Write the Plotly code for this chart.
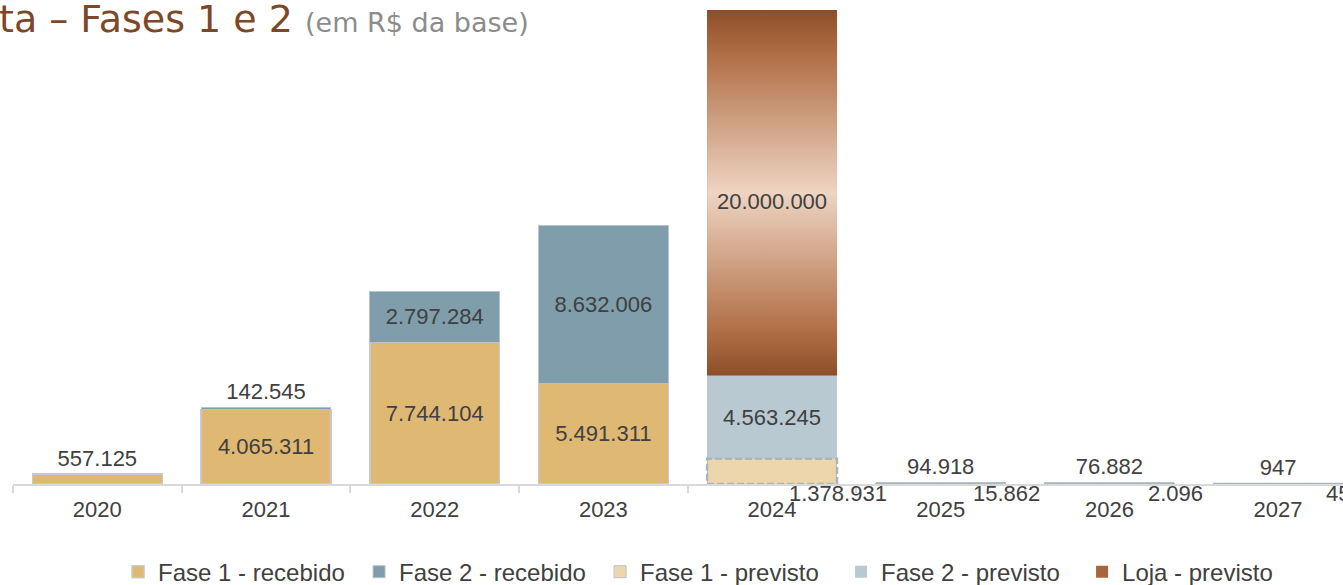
import plotly.graph_objects as go

# ---------------- data ----------------
years = ["2020", "2021", "2022", "2023", "2024", "2025", "2026", "2027"]
fase1_recebido = [557125, 4065311, 7744104, 5491311, None, None, None, None]
fase2_recebido = [None, 142545, 2797284, 8632006, None, None, None, None]
fase1_previsto = [None, None, None, None, 1378931, 15862, 2096, 452]
fase2_previsto = [None, None, None, None, 4563245, 94918, 76882, 947]
loja_previsto = [None, None, None, None, 20000000, None, None, None]

# ---------------- style ----------------
BARGAP = 0.23
W = 1 - BARGAP
LABEL_FONT = dict(family="Liberation Sans, Arial, sans-serif", size=22, color="#404040")
C_F1R = "#DFB874"
C_F2R = "#7F9DAB"
C_F1P = "#EDD6AC"
C_F2P = "#B9C9D2"
C_LOJA = "#A8643A"


def fmt(v):
    return f"{v:,.0f}".replace(",", ".")


def nz(v):
    return 0 if v is None else v


x = list(range(len(years)))


def txt(vals):
    return [fmt(v) if v else "" for v in vals]


def pos(vals, outside_limit):
    return ["outside" if (v is not None and v < outside_limit) else "inside" for v in vals]


fig = go.Figure()

fig.add_trace(go.Bar(
    x=x, y=fase1_recebido, name="Fase 1 - recebido",
    marker=dict(color=C_F1R, line=dict(color="#C9C9C9", width=1.5)),
    text=txt(fase1_recebido), textposition=pos(fase1_recebido, 1_000_000),
    insidetextanchor="middle", textangle=0, constraintext="none",
    textfont=LABEL_FONT, cliponaxis=False, hoverinfo="name+y",
))
fig.add_trace(go.Bar(
    x=x, y=fase2_recebido, name="Fase 2 - recebido",
    marker=dict(color=C_F2R, line=dict(color="#B9C4CA", width=1)),
    text=txt(fase2_recebido), textposition=pos(fase2_recebido, 1_000_000),
    insidetextanchor="middle", textangle=0, constraintext="none",
    textfont=LABEL_FONT, cliponaxis=False, hoverinfo="name+y",
))
fig.add_trace(go.Bar(
    x=x, y=fase1_previsto, name="Fase 1 - previsto",
    marker=dict(color=C_F1P, line=dict(color="#B7C2C9", width=1)),
    hoverinfo="name+y",
))
fig.add_trace(go.Bar(
    x=x, y=fase2_previsto, name="Fase 2 - previsto",
    marker=dict(color=C_F2P, line=dict(width=0)),
    text=txt(fase2_previsto), textposition=pos(fase2_previsto, 1_000_000),
    insidetextanchor="middle", textangle=0, constraintext="none",
    textfont=LABEL_FONT, cliponaxis=False, hoverinfo="name+y",
))
fig.add_trace(go.Bar(
    x=x, y=loja_previsto, name="Loja - previsto",
    marker=dict(color=C_LOJA, line=dict(width=0)),
    hoverinfo="name+y",
))

# dashed outline for "Fase 1 - previsto" segments (computed from the data)
ox, oy = [], []
for i, v in enumerate(fase1_previsto):
    if v is None:
        continue
    b = nz(fase1_recebido[i]) + nz(fase2_recebido[i])
    ox += [i - W / 2, i + W / 2, i + W / 2, i - W / 2, i - W / 2, None]
    oy += [b, b, b + v, b + v, b, None]
fig.add_trace(go.Scatter(
    x=ox, y=oy, mode="lines", showlegend=False, hoverinfo="skip",
    line=dict(color="#A9B6BF", width=2.5, dash="7px,3px"), cliponaxis=False,
))

# gradient fill for the "Loja - previsto" segment (computed from the data)
for i, v in enumerate(loja_previsto):
    if v is None:
        continue
    b = nz(fase1_recebido[i]) + nz(fase2_recebido[i]) + nz(fase1_previsto[i]) + nz(fase2_previsto[i])
    fig.add_trace(go.Scatter(
        x=[i - W / 2, i + W / 2, i + W / 2, i - W / 2, i - W / 2],
        y=[b, b, b + v, b + v, b],
        mode="lines", fill="toself", showlegend=False, hoverinfo="skip",
        line=dict(width=0),
        fillgradient=dict(
            type="vertical",
            colorscale=[[0, "#8C4E29"], [0.12, "#B06E45"], [0.5, "#EED4C2"],
                        [0.88, "#B06E45"], [1, "#8C4E29"]],
        ),
    ))
    fig.add_trace(go.Scatter(
        x=[i], y=[b + v / 2], mode="text", text=[fmt(v)], showlegend=False,
        textposition="bottom center",
        hoverinfo="skip", textfont=LABEL_FONT,
    ))

# labels of "Fase 1 - previsto" below the axis
annotations = []
for i, v in enumerate(fase1_previsto):
    if v is None:
        continue
    annotations.append(dict(
        x=i, y=0, xref="x", yref="y", text=fmt(v), showarrow=False,
        xanchor="center", yanchor="middle", xshift=66, yshift=-9,
        font=LABEL_FONT,
    ))

annotations.append(dict(
    x=0, y=1, xref="paper", yref="paper", xanchor="left", yanchor="top",
    xshift=-16, yshift=5, showarrow=False,
    text="ta – Fases 1 e 2 <span style='font-size:27px;color:#8C8C8C'>(em R$ da base)</span>",
    font=dict(family="DejaVu Sans, sans-serif", size=38, color="#7D4827"),
))

fig.update_layout(
    width=1343, height=585,
    margin=dict(l=13, r=0, t=0, b=101, autoexpand=False),
    barmode="stack", bargap=BARGAP,
    plot_bgcolor="white", paper_bgcolor="white",
    showlegend=True,
    legend=dict(
        orientation="h", x=0.079, xanchor="left", y=-0.182, yanchor="middle",
        font=dict(family="Liberation Sans, Arial, sans-serif", size=24, color="#404040"),
        traceorder="normal", itemwidth=30, entrywidth=196, entrywidthmode="pixels",
    ),
    annotations=annotations,
    xaxis=dict(
        range=[-0.5, 7.385], tickmode="array", tickvals=x, ticktext=years,
        ticks="", showline=True, linecolor="#D9D9D9", linewidth=1.5,
        showgrid=False, zeroline=False, ticklabelstandoff=5,
        tickfont=dict(family="Liberation Sans, Arial, sans-serif", size=22, color="#404040"),
        minor=dict(tickmode="array", tickvals=[i - 0.5 for i in range(len(years) + 1)],
                   ticks="outside", ticklen=7, tickcolor="#D9D9D9", tickwidth=1.5,
                   showgrid=False),
    ),
    yaxis=dict(visible=False, range=[0, 26.49e6], showgrid=False, zeroline=False),
)

fig.write_html("out.html", config={"displayModeBar": False},
               post_script="document.body.style.margin='0';")
